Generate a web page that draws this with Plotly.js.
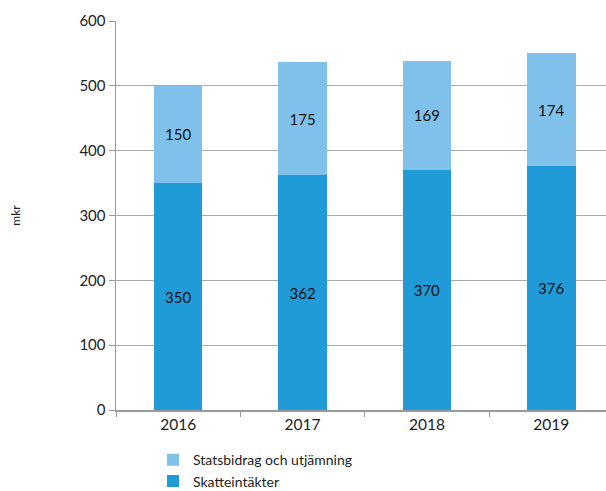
<!DOCTYPE html>
<html><head><meta charset="utf-8">
<script src="https://cdn.plot.ly/plotly-3.0.1.min.js"></script>
<style>body{margin:0;background:#fff}#c{width:606px;height:491px}</style>
</head><body><div id="c"></div>
<script>
const years = ['2016','2017','2018','2019'];
const skatteintakter = [350, 362, 370, 376];
const statsbidrag = [150, 175, 169, 174];
const yTicks = [0,100,200,300,400,500,600];

const fam = 'Lato, "Open Sans", sans-serif';
const font = {family: fam, size: 15, color: '#222'};
const traces = [
  {type:'bar', name:'Skatteintäkter', x:years, y:skatteintakter, marker:{color:'#209bd8'},
   text:skatteintakter.map(String), textposition:'inside', insidetextanchor:'middle',
   textfont:{family:fam,size:15,color:'#111'}, width:0.39, hoverinfo:'none'},
  {type:'bar', name:'Statsbidrag och utjämning', x:years, y:statsbidrag, marker:{color:'#7fc1ea'},
   text:statsbidrag.map(String), textposition:'inside', insidetextanchor:'middle',
   textfont:{family:fam,size:15,color:'#111'}, width:0.39, hoverinfo:'none'}
];
const layout = {
  width:606, height:491, barmode:'stack', font:font,
  margin:{l:116, r:0, t:21, b:81, autoexpand:false},
  paper_bgcolor:'#fff', plot_bgcolor:'#fff',
  xaxis:{type:'category', range:[-0.5,3.44], showline:true, linecolor:'#999', linewidth:1.5,
    ticks:'outside', tickson:'boundaries', ticklen:5, tickcolor:'#999', showgrid:false,
    tickfont:{family:fam,size:15.5,color:'#222'}},
  yaxis:{range:[0,600], tickvals:yTicks, showline:true, linecolor:'#999', linewidth:1.5,
    ticks:'outside', ticklen:6, tickcolor:'#999', gridcolor:'#aaa', gridwidth:1.2,
    zeroline:false, tickfont:{family:fam,size:15,color:'#222'},
    title:{text:'mkr', font:{family:fam,size:12,color:'#222'}, standoff:56}},
  showlegend:true,
  legend:{orientation:'v', traceorder:'reversed', x:0.0755, xanchor:'left', y:-0.088, yanchor:'top',
    font:{family:fam,size:14,color:'#222'}, itemwidth:30, tracegroupgap:0}
};
Plotly.newPlot('c', traces, layout, {displayModeBar:false, staticPlot:true});
</script></body></html>
